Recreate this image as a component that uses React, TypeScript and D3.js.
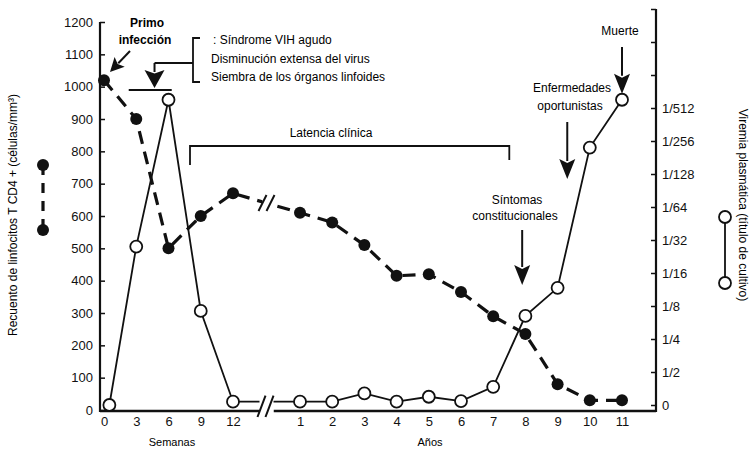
import * as d3 from "d3";
import React, { useRef, useEffect } from "react";

const width = 754;
const height = 450;
const plot = { left: 100, right: 656, top: 22, bottom: 411 };
const font = "'Liberation Sans', Arial, sans-serif";

// axis ticks
const weekTicks = [0, 3, 6, 9, 12];
const yearTicks = [1, 2, 3, 4, 5, 6, 7, 8, 9, 10, 11];
const cd4Ticks = [0, 100, 200, 300, 400, 500, 600, 700, 800, 900, 1000, 1100, 1200];
const titerTicks = [0, 1, 2, 3, 4, 5, 6, 7, 8, 9, 10, 11, 12];
const titerLabels = ["0", "1/2", "1/4", "1/8", "1/16", "1/32", "1/64", "1/128", "1/256", "1/512"];

// CD4 count (cells/mm3), weeks then years
const cd4WeekPos = [0, 3, 6, 9, 12];
const cd4WeekVals = [1020, 900, 500, 600, 670];
const cd4YearPos = [1, 2, 3, 4, 5, 6, 7, 8, 9, 10, 11];
const cd4YearVals = [610, 580, 510, 415, 420, 365, 290, 235, 80, 30, 30];

// plasma viremia, as titer step (0 = 0, 1 = 1/2 ... 9 = 1/512)
const vlWeekPos = [0.5, 3, 6, 9, 12];
const vlWeekVals = [0, 4.8, 9.25, 2.85, 0.1];
const vlYearPos = [1, 2, 3, 4, 5, 6, 7, 8, 9, 10, 11];
const vlYearVals = [0.1, 0.1, 0.35, 0.1, 0.25, 0.12, 0.55, 2.7, 3.55, 7.8, 9.25];

const weekX = d3.scaleLinear().domain([0, 12]).range([104, 233]);
const yearX = d3.scaleLinear().domain([1, 11]).range([300, 622]);
const yLeft = d3.scaleLinear().domain([0, 1200]).range([410, 22]);
const yRight = d3.scaleLinear().domain([0, 12]).range([405, 9]);

const Arrow = ({ x1, y1, x2, y2, len = 20, hw = 8, sw = 2 }) => {
  const dx = x2 - x1;
  const dy = y2 - y1;
  const d = Math.hypot(dx, dy);
  const ux = dx / d;
  const uy = dy / d;
  const bx = x2 - ux * len;
  const by = y2 - uy * len;
  const pts = [
    [bx - uy * hw, by + ux * hw],
    [x2, y2],
    [bx + uy * hw, by - ux * hw],
    [bx + ux * len * 0.2, by + uy * len * 0.2],
  ];
  return (
    <g>
      <line x1={x1} y1={y1} x2={bx + ux * 2} y2={by + uy * 2} stroke="#111" strokeWidth={sw} />
      <polygon points={pts.map((p) => p.join(",")).join(" ")} fill="#111" />
    </g>
  );
};

const App = () => {
  const leftRef = useRef(null);
  const rightRef = useRef(null);
  const weekRef = useRef(null);
  const yearRef = useRef(null);

  useEffect(() => {
    const style = (g) => {
      g.select(".domain").remove();
      g.selectAll("text").attr("font-family", font).attr("font-size", 13).attr("fill", "#111");
      g.selectAll("line").attr("stroke", "#111").attr("stroke-width", 1.5);
    };
    d3.select(leftRef.current)
      .call(
        d3.axisLeft(yLeft).tickValues(cd4Ticks).tickFormat(d3.format("d")).tickSize(-5).tickPadding(7)
      )
      .call(style);
    d3.select(rightRef.current)
      .call(
        d3
          .axisRight(yRight)
          .tickValues(titerTicks)
          .tickFormat((d) => titerLabels[d] ?? "")
          .tickSize(-5)
          .tickPadding(6)
      )
      .call(style);
    d3.select(weekRef.current)
      .call(d3.axisBottom(weekX).tickValues(weekTicks).tickSize(0).tickPadding(6))
      .call(style);
    d3.select(yearRef.current)
      .call(d3.axisBottom(yearX).tickValues(yearTicks).tickSize(0).tickPadding(6))
      .call(style);
  }, []);

  const cd4Pts = [
    ...cd4WeekPos.map((w, i) => [weekX(w), yLeft(cd4WeekVals[i])]),
    ...cd4YearPos.map((y, i) => [yearX(y), yLeft(cd4YearVals[i])]),
  ];
  const vlPts = [
    ...vlWeekPos.map((w, i) => [weekX(w), yRight(vlWeekVals[i])]),
    ...vlYearPos.map((y, i) => [yearX(y), yRight(vlYearVals[i])]),
  ];
  const line = d3.line();

  // axis break between weeks and years
  const breakX = (weekX(12) + yearX(1)) / 2;
  const gap = 7;
  const a = cd4Pts[cd4WeekPos.length - 1];
  const b = cd4Pts[cd4WeekPos.length];
  const cd4BreakY = a[1] + ((breakX - a[0]) / (b[0] - a[0])) * (b[1] - a[1]);
  const vlBreakY = yRight(vlWeekVals[vlWeekVals.length - 1]);

  return (
    <svg
      width={width}
      height={height}
      style={{ position: "absolute", left: 0, top: 0, background: "#fff" }}
      fontFamily={font}
    >
      {/* axis lines */}
      <line x1={plot.left} y1={plot.top} x2={plot.left} y2={plot.bottom + 1} stroke="#111" strokeWidth={2.2} />
      <line x1={plot.right} y1={yRight(12)} x2={plot.right} y2={plot.bottom + 1} stroke="#111" strokeWidth={2.2} />
      <line x1={plot.left} y1={plot.bottom} x2={breakX - gap} y2={plot.bottom} stroke="#111" strokeWidth={2.5} />
      <line x1={breakX + gap} y1={plot.bottom} x2={plot.right} y2={plot.bottom} stroke="#111" strokeWidth={2.5} />
      <g ref={leftRef} transform={`translate(${plot.left},0)`} />
      <g ref={rightRef} transform={`translate(${plot.right},0)`} />
      <g ref={weekRef} transform={`translate(0,${plot.bottom})`} />
      <g ref={yearRef} transform={`translate(0,${plot.bottom})`} />

      {/* viremia line */}
      <path d={line(vlPts)} fill="none" stroke="#111" strokeWidth={1.8} />
      {/* CD4 line */}
      <path d={line(cd4Pts)} fill="none" stroke="#111" strokeWidth={3.2} strokeDasharray="13 8" />

      {/* break marks */}
      <rect x={breakX - gap} y={vlBreakY - 4} width={gap * 2} height={plot.bottom - vlBreakY + 8} fill="#fff" />
      {[-gap, 1].map((o) => (
        <line
          key={"bx" + o}
          x1={breakX + o - 2}
          y1={plot.bottom + 6}
          x2={breakX + o + 6}
          y2={vlBreakY - 6}
          stroke="#111"
          strokeWidth={2}
        />
      ))}
      <rect x={breakX - 4} y={cd4BreakY - 5} width={8} height={10} fill="#fff" />
      {[-4, 4].map((o) => (
        <line
          key={"bc" + o}
          x1={breakX + o - 4}
          y1={cd4BreakY + 8}
          x2={breakX + o + 4}
          y2={cd4BreakY - 8}
          stroke="#111"
          strokeWidth={2}
        />
      ))}

      {/* markers */}
      {cd4Pts.map(([x, y], i) => (
        <circle key={"c" + i} cx={x} cy={y} r={6} fill="#111" />
      ))}
      {vlPts.map(([x, y], i) => (
        <circle key={"v" + i} cx={x} cy={y} r={6} fill="#fff" stroke="#111" strokeWidth={1.8} />
      ))}

      {/* axis titles */}
      <text x={172} y={446} textAnchor="middle" fontSize={11}>Semanas</text>
      <text x={430} y={446} textAnchor="middle" fontSize={11}>Años</text>
      <text transform="translate(17,215) rotate(-90)" textAnchor="middle" fontSize={12}>
        Recuento de linfocitos T CD4 + (células/mm³)
      </text>
      <text transform="translate(739,205) rotate(90)" textAnchor="middle" fontSize={12}>
        Viremia plasmática (título de cultivo)
      </text>

      {/* legends */}
      <line x1={43} y1={165} x2={43} y2={230} stroke="#111" strokeWidth={3.2} strokeDasharray="10 8" />
      <circle cx={43} cy={165} r={6} fill="#111" />
      <circle cx={43} cy={230} r={6} fill="#111" />
      <line x1={725} y1={217} x2={725} y2={283} stroke="#111" strokeWidth={1.8} />
      <circle cx={725} cy={217} r={6} fill="#fff" stroke="#111" strokeWidth={1.8} />
      <circle cx={725} cy={283} r={6} fill="#fff" stroke="#111" strokeWidth={1.8} />

      {/* primary infection */}
      <text x={147} y={27} textAnchor="middle" fontSize={12} fontWeight="bold">Primo</text>
      <text x={145} y={44} textAnchor="middle" fontSize={12} fontWeight="bold">infección</text>
      <Arrow x1={130} y1={51} x2={110} y2={72} len={14} hw={7} />

      {/* acute syndrome */}
      <line x1={weekX(4.7)} y1={63} x2={193} y2={63} stroke="#111" strokeWidth={1.8} />
      <path d="M200,38 H193 V82 H200" fill="none" stroke="#111" strokeWidth={1.8} />
      <Arrow x1={weekX(4.7)} y1={63} x2={weekX(4.7)} y2={88} len={18} hw={10} />
      <line x1={weekX(2.3)} y1={90} x2={weekX(6.3)} y2={90} stroke="#111" strokeWidth={2.2} />
      <text x={213} y={44} fontSize={12}>:  Síndrome VIH agudo</text>
      <text x={211} y={63} fontSize={12}>Disminución extensa del virus</text>
      <text x={211} y={81} fontSize={12}>Siembra de los órganos linfoides</text>

      {/* clinical latency */}
      <text x={331} y={137} textAnchor="middle" fontSize={12}>Latencia clínica</text>
      <path
        d={`M${weekX(8)},165 V146 H${yearX(7.5)} V160`}
        fill="none"
        stroke="#111"
        strokeWidth={1.8}
      />

      {/* late stage */}
      <text x={517} y={204} textAnchor="middle" fontSize={12}>Síntomas</text>
      <text x={515} y={220} textAnchor="middle" fontSize={12}>constitucionales</text>
      <Arrow x1={yearX(7.9)} y1={230} x2={yearX(7.9)} y2={285} />

      <text x={572} y={92} textAnchor="middle" fontSize={12}>Enfermedades</text>
      <text x={570} y={110} textAnchor="middle" fontSize={12}>oportunistas</text>
      <Arrow x1={yearX(9.3)} y1={122} x2={yearX(9.3)} y2={179} />

      <text x={620} y={35} textAnchor="middle" fontSize={12}>Muerte</text>
      <Arrow x1={yearX(11)} y1={47} x2={yearX(11)} y2={yRight(vlYearVals[10]) - 6} />
    </svg>
  );
};

export default App;
